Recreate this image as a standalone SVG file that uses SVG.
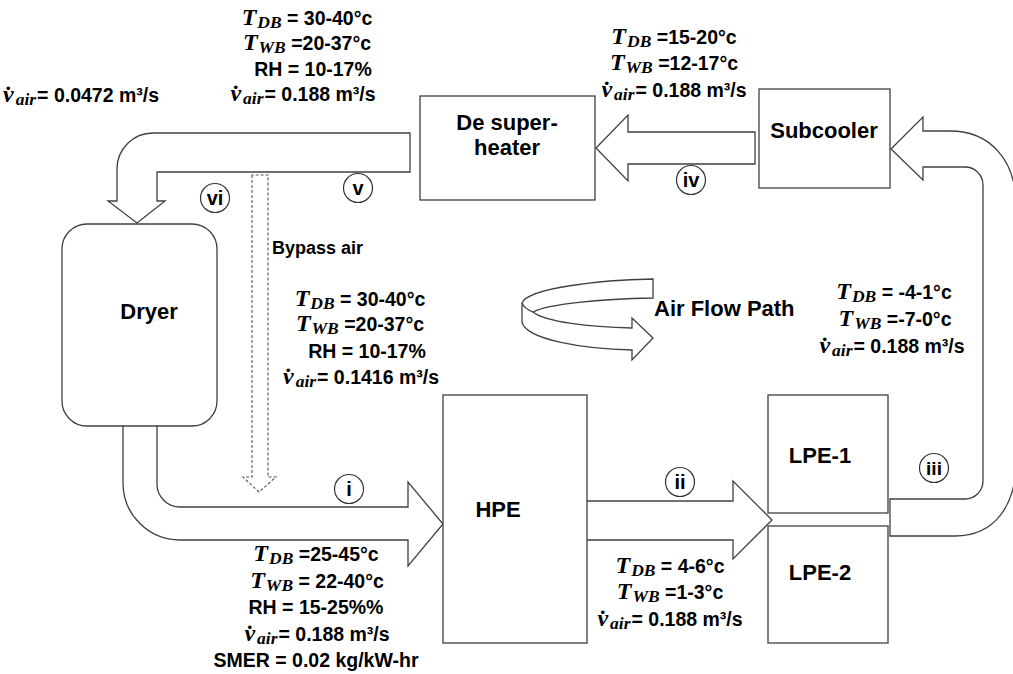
<svg xmlns="http://www.w3.org/2000/svg" width="1013" height="674" viewBox="0 0 1013 674">
<style>
.bg{fill:#fff}
.box{fill:#fff;stroke:#404040;stroke-width:1.3}
.duct{fill:#fff;stroke:#404040;stroke-width:1.3;stroke-linejoin:miter}
.dash{fill:none;stroke:#555;stroke-width:1.1;stroke-dasharray:3 2}
.lbl{font-family:"Liberation Sans",Arial,sans-serif;font-weight:bold;font-size:22px;fill:#000}
.val{font-family:"Liberation Sans",Arial,sans-serif;font-weight:bold;font-size:19.5px;fill:#000}
.m{font-family:"Liberation Serif","Times New Roman",serif;font-style:italic;font-weight:bold;font-size:24px}
.ms{font-family:"Liberation Serif","Times New Roman",serif;font-style:italic;font-weight:bold;font-size:17.5px}
.num{font-family:"Liberation Sans",Arial,sans-serif;font-weight:bold;font-size:20px;fill:#000}
.cir{fill:#fff;stroke:#333;stroke-width:1.2}
</style>
<rect class="bg" x="0" y="0" width="1013" height="674"/>

<g id="connectors">
  <path id="duct-v" class="duct" d="M410,133 L153,133 A36,36 0 0 0 117,169 L117,201 L108,201 L137,223 L165,201 L157,201 L157,172 L410,172 Z"/>
  <path id="duct-iv" class="duct" d="M755,132 L628,132 L628,115 L596,148 L628,181 L628,164 L755,164 Z"/>
  <path id="duct-i" class="duct" d="M123,426 L123,483 A57,57 0 0 0 180,540 L408,540 L408,566 L443,524 L408,482 L408,507 L180,507 A23,23 0 0 1 157,484 L157,426"/>
  <path id="duct-ii" class="duct" d="M587,501 L733,501 L733,481 L772,520 L733,559 L733,540 L587,540"/>
  <path id="duct-iii" class="duct" d="M890,499 L965,499 A18,18 0 0 0 983,481 L983,185 A18,18 0 0 0 965,167 L923,167 L923,180 L891,149 L923,117 L923,131 L950,131 C990,131 1016,160 1016,205 L1016,462 C1016,505 995,536 955,536 L890,536 Z"/>
  <path id="bypass" class="dash" d="M252,175 L252,477 L243,477 L259,492 L276,477 L268,477 L268,175 Z"/>
  <g id="airflow">
    <path class="duct" d="M653,279 C600,280 528,288 522,303 L522,322 C526,340 585,349 632,350 L632,360 L653,338 L632,318 L632,328 C590,327 545,322 533,312 C548,304 600,299 653,298 Z"/>
    <path fill="none" stroke="#404040" stroke-width="1.3" d="M522,303 C524,308 528,310 533,312"/>
  </g>
</g>

<g id="node-desuperheater">
  <rect class="box" x="420" y="96" width="175" height="104"/>
  <text class="lbl" x="507" y="130" text-anchor="middle">De super-</text>
  <text class="lbl" x="507" y="155" text-anchor="middle">heater</text>
</g>
<g id="node-subcooler">
  <rect class="box" x="759" y="89" width="131" height="99"/>
  <text class="lbl" x="824" y="138" text-anchor="middle">Subcooler</text>
</g>
<g id="node-dryer">
  <rect class="box" x="62" y="224" width="155" height="202" rx="25" ry="25"/>
  <text class="lbl" x="149" y="319" text-anchor="middle">Dryer</text>
</g>
<g id="node-hpe">
  <rect class="box" x="443" y="395" width="144" height="248"/>
  <text class="lbl" x="498" y="517" text-anchor="middle">HPE</text>
</g>
<g id="node-lpe1">
  <rect class="box" x="768" y="395" width="120" height="118"/>
  <text class="lbl" x="820" y="463" text-anchor="middle">LPE-1</text>
</g>
<g id="node-lpe2">
  <rect class="box" x="768" y="526" width="120" height="117"/>
  <text class="lbl" x="820" y="580" text-anchor="middle">LPE-2</text>
</g>

<g id="labels">
  <text class="lbl" x="654" y="316">Air Flow Path</text>
  <text class="val" x="272" y="254" style="font-size:18px">Bypass air</text>

  <g id="state-markers">
    <circle class="cir" cx="215" cy="198" r="14.5"/><text class="num" x="215" y="205" text-anchor="middle">vi</text>
    <circle class="cir" cx="358" cy="188" r="14.5"/><text class="num" x="358" y="195" text-anchor="middle">v</text>
    <circle class="cir" cx="691" cy="180" r="14.5"/><text class="num" x="691" y="187" text-anchor="middle">iv</text>
    <circle class="cir" cx="349" cy="489" r="14.5"/><text class="num" x="349" y="496" text-anchor="middle">i</text>
    <circle class="cir" cx="680" cy="482" r="14.5"/><text class="num" x="680" y="489" text-anchor="middle">ii</text>
    <circle class="cir" cx="934" cy="468" r="14.5"/><text class="num" x="934" y="475" text-anchor="middle" style="font-size:19px">iii</text>
  </g>

  <!-- top-left block -->
  <text class="val" x="307" y="25" text-anchor="middle"><tspan class="m">T</tspan><tspan class="ms" dx="1" dy="3">DB</tspan><tspan dy="-3"> = 30-40°c</tspan></text>
  <text class="val" x="307" y="50" text-anchor="middle"><tspan class="m">T</tspan><tspan class="ms" dx="1" dy="3">WB</tspan><tspan dy="-3"> =20-37°c</tspan></text>
  <text class="val" x="313" y="76" text-anchor="middle">RH = 10-17%</text>
  <text class="val" x="303" y="101" text-anchor="middle"><tspan class="m">v̇</tspan><tspan class="ms" dx="2" dy="3">air</tspan><tspan dx="1" dy="-3">= 0.188 m³/s</tspan></text>
  <text class="val" x="3" y="102"><tspan class="m">v̇</tspan><tspan class="ms" dx="2" dy="3">air</tspan><tspan dx="1" dy="-3">= 0.0472 m³/s</tspan></text>

  <!-- top-middle block -->
  <text class="val" x="674" y="44" text-anchor="middle"><tspan class="m">T</tspan><tspan class="ms" dx="1" dy="3">DB</tspan><tspan dy="-3"> =15-20°c</tspan></text>
  <text class="val" x="674" y="70" text-anchor="middle"><tspan class="m">T</tspan><tspan class="ms" dx="1" dy="3">WB</tspan><tspan dy="-3"> =12-17°c</tspan></text>
  <text class="val" x="674" y="97" text-anchor="middle"><tspan class="m">v̇</tspan><tspan class="ms" dx="2" dy="3">air</tspan><tspan dx="1" dy="-3">= 0.188 m³/s</tspan></text>

  <!-- bypass block -->
  <text class="val" x="360" y="306" text-anchor="middle"><tspan class="m">T</tspan><tspan class="ms" dx="1" dy="3">DB</tspan><tspan dy="-3"> = 30-40°c</tspan></text>
  <text class="val" x="360" y="331" text-anchor="middle"><tspan class="m">T</tspan><tspan class="ms" dx="1" dy="3">WB</tspan><tspan dy="-3"> =20-37°c</tspan></text>
  <text class="val" x="367" y="358" text-anchor="middle">RH = 10-17%</text>
  <text class="val" x="361" y="384" text-anchor="middle"><tspan class="m">v̇</tspan><tspan class="ms" dx="2" dy="3">air</tspan><tspan dx="1" dy="-3">= 0.1416 m³/s</tspan></text>

  <!-- right block -->
  <text class="val" x="894" y="299" text-anchor="middle"><tspan class="m">T</tspan><tspan class="ms" dx="1" dy="3">DB</tspan><tspan dy="-3"> = -4-1°c</tspan></text>
  <text class="val" x="895" y="326" text-anchor="middle"><tspan class="m">T</tspan><tspan class="ms" dx="1" dy="3">WB</tspan><tspan dy="-3"> =-7-0°c</tspan></text>
  <text class="val" x="892" y="353" text-anchor="middle"><tspan class="m">v̇</tspan><tspan class="ms" dx="2" dy="3">air</tspan><tspan dx="1" dy="-3">= 0.188 m³/s</tspan></text>

  <!-- ii block -->
  <text class="val" x="670" y="573" text-anchor="middle"><tspan class="m">T</tspan><tspan class="ms" dx="1" dy="3">DB</tspan><tspan dy="-3"> = 4-6°c</tspan></text>
  <text class="val" x="670" y="599" text-anchor="middle"><tspan class="m">T</tspan><tspan class="ms" dx="1" dy="3">WB</tspan><tspan dy="-3"> =1-3°c</tspan></text>
  <text class="val" x="670" y="626" text-anchor="middle"><tspan class="m">v̇</tspan><tspan class="ms" dx="2" dy="3">air</tspan><tspan dx="1" dy="-3">= 0.188 m³/s</tspan></text>

  <!-- bottom block -->
  <text class="val" x="316" y="561" text-anchor="middle"><tspan class="m">T</tspan><tspan class="ms" dx="1" dy="3">DB</tspan><tspan dy="-3"> =25-45°c</tspan></text>
  <text class="val" x="317" y="588" text-anchor="middle"><tspan class="m">T</tspan><tspan class="ms" dx="1" dy="3">WB</tspan><tspan dy="-3"> = 22-40°c</tspan></text>
  <text class="val" x="316" y="614" text-anchor="middle">RH = 15-25%%</text>
  <text class="val" x="317" y="641" text-anchor="middle"><tspan class="m">v̇</tspan><tspan class="ms" dx="2" dy="3">air</tspan><tspan dx="1" dy="-3">= 0.188 m³/s</tspan></text>
  <text class="val" x="316" y="667" text-anchor="middle">SMER = 0.02 kg/kW-hr</text>
</g>
</svg>
